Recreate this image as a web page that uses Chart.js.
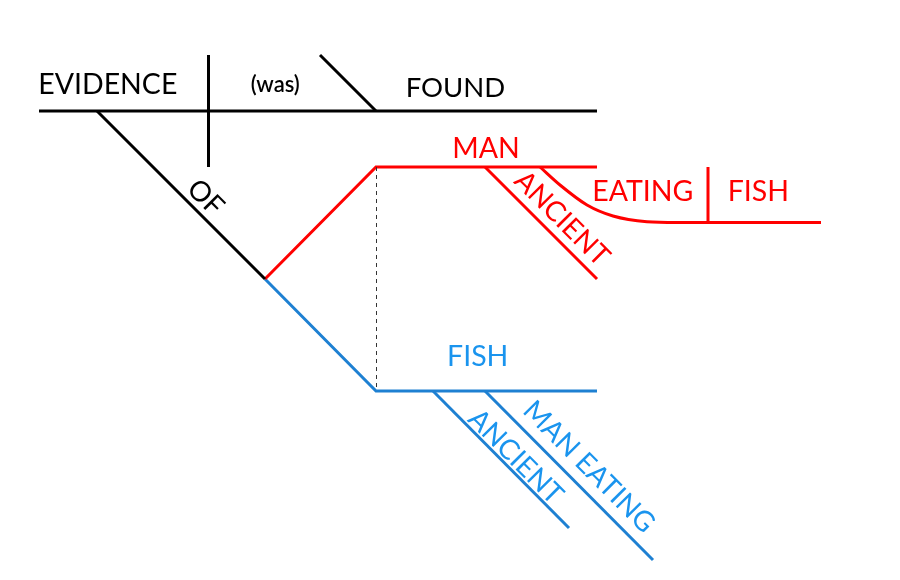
<!DOCTYPE html>
<html>
<head>
<meta charset="utf-8">
<script src="https://cdn.jsdelivr.net/npm/chart.js@4.4.1/dist/chart.umd.min.js"></script>
<style>
  html, body { margin: 0; padding: 0; background: #ffffff; }
  #wrap { width: 900px; height: 580px; position: relative; }
</style>
</head>
<body>
<div id="wrap"><canvas id="c"></canvas></div>
<script>
// ---- Diagram data (diagram units) ----
// Sentence: "Evidence (was) found of ancient man eating fish" / "... of ancient man-eating fish"
const words = ['EVIDENCE', '(was)', 'FOUND', 'OF', 'MAN', 'ANCIENT', 'EATING', 'FISH', 'FISH', 'ANCIENT', 'MAN EATING'];
const wordGroup = ['main', 'main', 'main', 'main', 'red', 'red', 'red', 'red', 'blue', 'blue', 'blue'];

// line segments (each a polyline)
const mainBaseline   = [[39, 111], [597, 111]];
const subjectDivider = [[208.5, 55], [208.5, 167]];
const verbSlant      = [[320, 55], [376, 111]];
const ofLine         = [[97, 111], [265, 279]];
const redObject      = [[265, 279], [376, 167], [597, 167]];
const redAncient     = [[485, 167], [597, 279]];
const redEatingCurve = [[540, 167], [560, 185], [587, 205], [613, 216], [647, 221.7], [677, 222.5], [708, 222.5], [821, 222.5]];
const redFishDivider = [[708, 167], [708, 222.5]];
const blueObject     = [[265, 279], [376, 391], [597, 391]];
const blueAncient    = [[433, 391], [569, 528]];
const blueManEating  = [[485, 391], [653, 560]];
const dashedLink     = [[376.5, 167], [376.5, 391]];

// ---- Layout for word labels (centre position, angle in degrees) ----
const labelLayout = [
  { x: 107.8, y: 83.3, rot: 0,  size: 28.5, weight: 400 },
  { x: 275.3, y: 84,   rot: 0,  size: 22, weight: 600 },
  { x: 455.5, y: 87.5, rot: 0,  size: 27.5, weight: 400 },
  { x: 206.5, y: 196.5, rot: 45, size: 28, weight: 400 },
  { x: 486,   y: 147.3, rot: 0,  size: 28.5, weight: 400 },
  { x: 563,   y: 217.5, rot: 45, size: 28, weight: 400 },
  { x: 642.8, y: 190.3, rot: 0,  size: 28.5, weight: 400 },
  { x: 758.3, y: 190.3, rot: 0,  size: 28.5, weight: 400 },
  { x: 477.7, y: 355,   rot: 0,  size: 28.5, weight: 400 },
  { x: 516.7, y: 455.8, rot: 45, size: 28, weight: 400 },
  { x: 590,   y: 465.8, rot: 45, size: 28, weight: 400 }
];

const colours = { main: '#000000', red: '#ff0000', blue: '#1e80d2', blueText: '#1a94ee', dash: '#333333' };
const FONT = 'Lato, "Open Sans", sans-serif';

function pts(arr) { return arr.map(p => ({ x: p[0], y: p[1] })); }
function seg(arr, color, extra) {
  return Object.assign({
    data: pts(arr), showLine: true, borderColor: color, borderWidth: 3,
    pointRadius: 0, pointHoverRadius: 0, fill: false, tension: 0,
    borderCapStyle: 'butt', borderJoinStyle: 'miter'
  }, extra || {});
}

const datasets = [
  seg(dashedLink, colours.dash, { borderWidth: 1, borderDash: [4, 4] }),
  seg(mainBaseline, colours.main),
  seg(subjectDivider, colours.main),
  seg(verbSlant, colours.main),
  seg(ofLine, colours.main),
  seg(redObject, colours.red),
  seg(redAncient, colours.red),
  seg(redEatingCurve, colours.red, { cubicInterpolationMode: 'monotone' }),
  seg(redFishDivider, colours.red),
  seg(blueObject, colours.blue),
  seg(blueAncient, colours.blue),
  seg(blueManEating, colours.blue)
];

const wordPlugin = {
  id: 'words',
  afterDatasetsDraw(chart) {
    const ctx = chart.ctx;
    const xs = chart.scales.x, ys = chart.scales.y;
    words.forEach((w, i) => {
      const L = labelLayout[i];
      const g = wordGroup[i];
      ctx.save();
      ctx.font = `${L.weight} ${L.size}px ${FONT}`;
      ctx.fillStyle = g === 'main' ? colours.main : (g === 'red' ? colours.red : colours.blueText);
      ctx.textAlign = 'center';
      ctx.textBaseline = 'alphabetic';
      const m = ctx.measureText(w);
      const asc = m.actualBoundingBoxAscent, desc = m.actualBoundingBoxDescent;
      ctx.translate(xs.getPixelForValue(L.x), ys.getPixelForValue(L.y));
      ctx.rotate(L.rot * Math.PI / 180);
      ctx.fillText(w, 0, (asc - desc) / 2);
      ctx.restore();
    });
  }
};

new Chart(document.getElementById('c'), {
  type: 'scatter',
  data: { datasets },
  options: {
    responsive: true,
    maintainAspectRatio: false,
    animation: false,
    layout: { padding: 0 },
    scales: {
      x: { type: 'linear', min: 0, max: 900, display: false },
      y: { type: 'linear', min: 0, max: 580, reverse: true, display: false }
    },
    plugins: { legend: { display: false }, tooltip: { enabled: false } },
    events: []
  },
  plugins: [wordPlugin]
});
</script>
</body>
</html>
